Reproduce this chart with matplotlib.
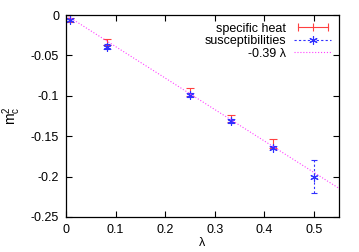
import numpy as np
import matplotlib
matplotlib.use("Agg")
import matplotlib.pyplot as plt
from matplotlib.legend_handler import HandlerLine2D

# specific heat estimates
lam_heat = [0.008, 0.0833, 0.25, 0.3333, 0.4167]
m2_heat = [-0.006, -0.033, -0.095, -0.128, -0.159]
err_heat = [0.002, 0.004, 0.005, 0.004, 0.005]

# susceptibility estimates
lam_susc = [0.008, 0.0833, 0.25, 0.3333, 0.4167, 0.5]
m2_susc = [-0.006, -0.039, -0.099, -0.131, -0.164, -0.200]
err_susc = [0.001, 0.003, 0.002, 0.002, 0.002, 0.020]

slope = -0.39

plt.rcParams['font.family'] = ['Liberation Sans', 'DejaVu Sans']
plt.rcParams['font.size'] = 9

fig = plt.figure(figsize=(3.59, 2.52), dpi=100)
ax = fig.add_axes([0.184, 0.139, 0.76, 0.801])

star = (6, 2, 0)  # asterisk like gnuplot's point type 3
ax.errorbar(lam_heat, m2_heat, yerr=err_heat, fmt='none', ecolor='#ff4040',
            elinewidth=0.8, capsize=3, capthick=0.8)
es = ax.errorbar(lam_susc, m2_susc, yerr=err_susc, fmt='none', ecolor='#3030ff',
                 elinewidth=0.8, capsize=2.5, capthick=0.8)
es[2][0].set_linestyle((0, (2, 2)))
ax.plot(lam_susc, m2_susc, ls='none', marker=star, color='#3030ff', ms=6, mew=0.8)

xl = np.linspace(0, 0.55, 50)
line, = ax.plot(xl, slope * xl, ':', color='#ff40ff', lw=0.8)

# legend handles in gnuplot style
h1, = ax.plot([], [], color='#ff4040', lw=0.8, marker='|', ms=6, mew=0.8)
h2, = ax.plot([], [], color='#3030ff', lw=0.8, ls=(0, (2, 2)), marker=star, ms=6, mew=0.8)
ax.legend([h1, h2, line], ['specific heat', 'susceptibilities', '-0.39 λ'],
          loc='upper right', frameon=False, markerfirst=False, handlelength=3,
          borderaxespad=0.2, labelspacing=0.05, handletextpad=0.6, fontsize=9,
          handler_map={h1: HandlerLine2D(numpoints=3)})

ax.set_xlim(0, 0.55)
ax.set_ylim(-0.25, 0)
ax.set_xticks([0, 0.1, 0.2, 0.3, 0.4, 0.5])
ax.set_xticklabels(['0', '0.1', '0.2', '0.3', '0.4', '0.5'])
ax.set_yticks([0, -0.05, -0.1, -0.15, -0.2, -0.25])
ax.set_yticklabels(['0', '-0.05', '-0.1', '-0.15', '-0.2', '-0.25'])
ax.tick_params(direction='in', top=True, right=True, length=4, width=0.8, pad=5)
for s in ax.spines.values():
    s.set_linewidth(0.9)

ax.set_xlabel('λ', labelpad=1)
ax.set_ylabel('$\\mathregular{m_c^2}$', fontsize=10, labelpad=6)

fig.savefig('out.png', dpi=100)
